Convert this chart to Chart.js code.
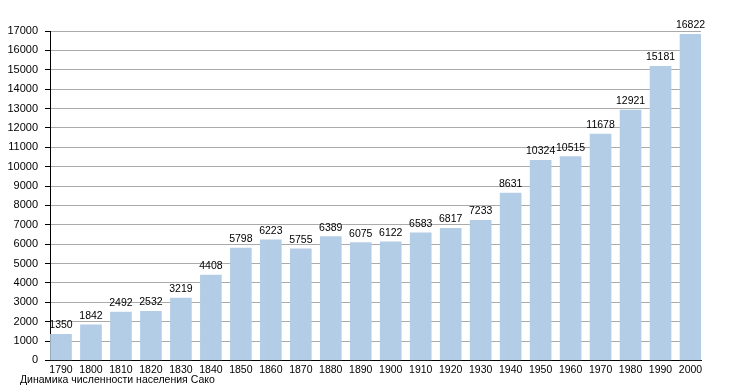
<!DOCTYPE html>
<html>
<head>
<meta charset="utf-8">
<script src="https://cdn.jsdelivr.net/npm/chart.js@4.4.1/dist/chart.umd.min.js"></script>
<style>
html,body{margin:0;padding:0;background:#fff;}
#wrap{width:730px;height:390px;}
</style>
</head>
<body>
<div id="wrap"><canvas id="c" width="730" height="390"></canvas></div>
<script>
const categories = ["1790","1800","1810","1820","1830","1840","1850","1860","1870","1880","1890","1900","1910","1920","1930","1940","1950","1960","1970","1980","1990","2000"];
const population = [1350,1842,2492,2532,3219,4408,5798,6223,5755,6389,6075,6122,6583,6817,7233,8631,10324,10515,11678,12921,15181,16822];
const yTicksMax = 17000;
const yTickStep = 1000;
const caption = "Динамика численности населения Сако";

const FONT = "'Liberation Sans', Arial, Helvetica, sans-serif";
const points = categories.map((c, i) => ({ x: Number(c), y: population[i] }));

const valueLabels = {
  id: 'valueLabels',
  afterLayout(chart) {
    if (chart.titleBlock) { chart.titleBlock.left = 20; }
  },
  afterDatasetsDraw(chart) {
    const ctx = chart.ctx;
    const meta = chart.getDatasetMeta(0);
    ctx.save();
    ctx.font = "10.5px " + FONT;
    ctx.fillStyle = "#000";
    ctx.textAlign = "center";
    ctx.textBaseline = "alphabetic";
    meta.data.forEach((bar, i) => {
      ctx.fillText(String(population[i]), bar.x, bar.y - 6);
    });
    ctx.restore();
  }
};

new Chart(document.getElementById('c'), {
  type: 'bar',
  data: {
    datasets: [{
      data: points,
      backgroundColor: '#b4cde6',
      borderWidth: 0,
      barThickness: 21
    }]
  },
  options: {
    responsive: false,
    animation: false,
    events: [],
    layout: { padding: { left: 0, right: 29, top: 31, bottom: 0 } },
    plugins: {
      legend: { display: false },
      tooltip: { enabled: false },
      title: {
        display: true,
        position: 'bottom',
        align: 'start',
        text: caption,
        color: '#000',
        font: { family: FONT, size: 10.5, weight: 'normal' },
        padding: { top: 0, bottom: 4 }
      }
    },
    scales: {
      x: {
        type: 'linear',
        offset: false,
        min: 1790 - 11 / 3,
        max: 2003.5,
        grid: { display: false, drawTicks: false, offset: false },
        border: { display: true, color: '#000', width: 1 },
        ticks: {
          stepSize: 10,
          includeBounds: false,
          autoSkip: false,
          maxRotation: 0,
          padding: 3,
          color: '#000',
          font: { family: FONT, size: 10.5 },
          callback: (v) => {
            const idx = categories.indexOf(String(v));
            return idx >= 0 ? categories[idx] : '';
          }
        },
        afterFit: (s) => { s.height = 13; }
      },
      y: {
        min: 0,
        max: yTicksMax,
        grid: { color: '#aaaaaa', lineWidth: 1, drawTicks: true, tickLength: 5, tickColor: '#000' },
        border: { display: true, color: '#000', width: 1 },
        ticks: {
          stepSize: yTickStep,
          padding: 7,
          color: '#000',
          font: { family: FONT, size: 11 },
          callback: (v) => String(v)
        },
        afterFit: (s) => { s.width = 50; }
      }
    }
  },
  plugins: [valueLabels]
});
</script>
</body>
</html>
